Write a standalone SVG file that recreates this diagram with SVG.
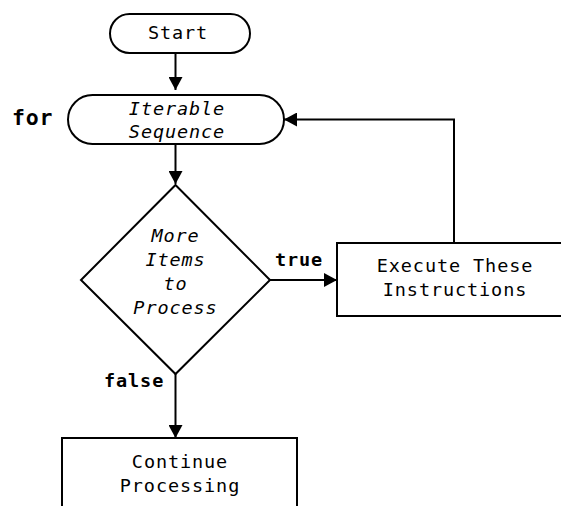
<svg xmlns="http://www.w3.org/2000/svg" width="561" height="506" viewBox="0 0 561 506">
  <style>
    .shape { fill: #ffffff; stroke: #000000; stroke-width: 2; }
    .edge { fill: none; stroke: #000000; stroke-width: 2; }
    .txt { font-family: "DejaVu Sans Mono", "Liberation Mono", monospace; font-size: 18.5px; letter-spacing: 0.9px; fill: #000000; text-anchor: middle; }
    .it { font-style: italic; }
    .kw { font-family: "DejaVu Sans Mono", "Liberation Mono", monospace; font-weight: bold; font-size: 18.5px; letter-spacing: 0.9px; fill: #000000; }
  </style>
  <defs>
    <marker id="arrow" viewBox="0 0 13 14" refX="13" refY="7" markerWidth="13" markerHeight="14" markerUnits="userSpaceOnUse" orient="auto">
      <path d="M0,0 L13,7 L0,14 Z" fill="#000000"/>
    </marker>
  </defs>
  <rect width="561" height="506" fill="#ffffff"/>

  <g id="connectors">
    <line class="edge" x1="175.5" y1="53" x2="175.5" y2="90" marker-end="url(#arrow)"/>
    <line class="edge" x1="175.5" y1="144" x2="175.5" y2="184" marker-end="url(#arrow)"/>
    <line class="edge" x1="270" y1="280" x2="337" y2="280" marker-end="url(#arrow)"/>
    <polyline class="edge" points="454,243 454,119.5 284,119.5" marker-end="url(#arrow)"/>
    <line class="edge" x1="175.5" y1="374" x2="175.5" y2="438" marker-end="url(#arrow)"/>
    <text class="kw" x="275" y="266">true</text>
    <text class="kw" x="104" y="387">false</text>
  </g>

  <g id="start">
    <rect class="shape" x="110" y="14" width="140" height="39" rx="19.5" ry="19.5"/>
    <text class="txt" x="178" y="39">Start</text>
  </g>

  <g id="iterable">
    <text class="kw" x="12" y="125" style="font-size:21.5px;letter-spacing:0.8px">for</text>
    <rect class="shape" x="68" y="95" width="216" height="49" rx="24.5" ry="24.5"/>
    <text class="txt it" x="177" y="115">Iterable</text>
    <text class="txt it" x="177" y="138">Sequence</text>
  </g>

  <g id="decision">
    <polygon class="shape" points="175.5,185 270,280 175.5,374 81,280"/>
    <text class="txt it" x="175.5" y="241.5">More</text>
    <text class="txt it" x="175.5" y="265.5">Items</text>
    <text class="txt it" x="175.5" y="289.5">to</text>
    <text class="txt it" x="175.5" y="313.5">Process</text>
  </g>

  <g id="execute">
    <rect class="shape" x="337" y="243" width="240" height="73"/>
    <text class="txt" x="455" y="272">Execute These</text>
    <text class="txt" x="455" y="296">Instructions</text>
  </g>

  <g id="continue">
    <rect class="shape" x="62" y="438" width="235" height="90"/>
    <text class="txt" x="180" y="468">Continue</text>
    <text class="txt" x="180" y="492">Processing</text>
  </g>
</svg>
